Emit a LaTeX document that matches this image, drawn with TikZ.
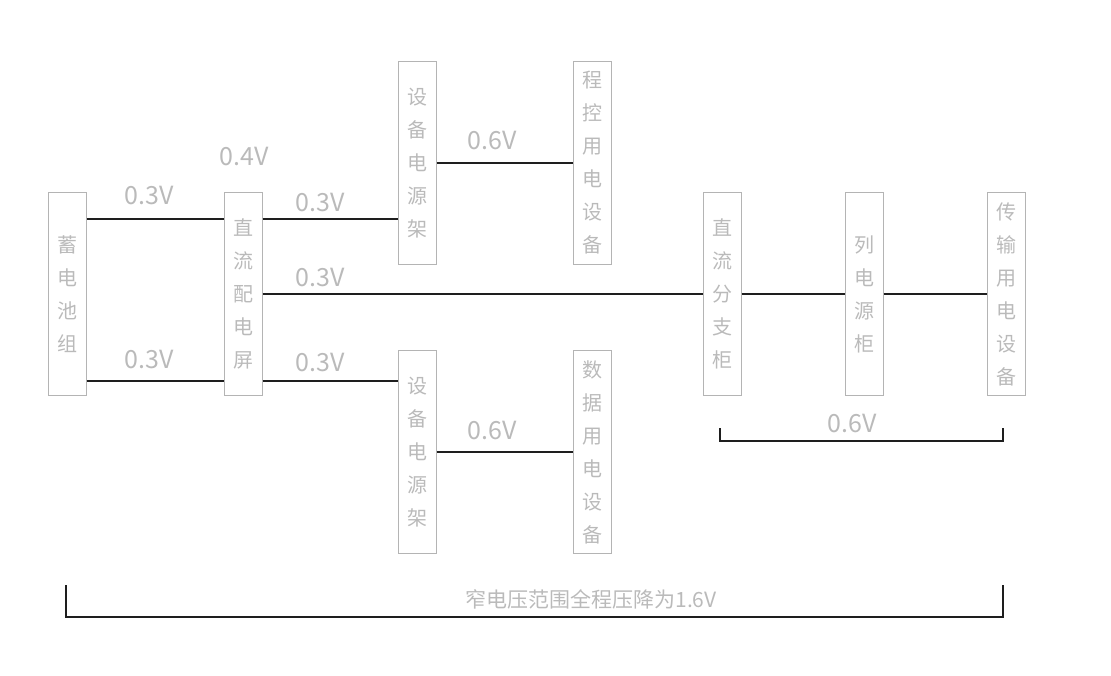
\documentclass[tikz,border=0pt]{standalone}
\usepackage{fontspec}
\newfontfamily\cjk{Noto Sans CJK SC}
\usetikzlibrary{positioning}
\definecolor{cadgray}{HTML}{B4B4B4}
\definecolor{cadtext}{HTML}{BABABA}
\definecolor{wireblack}{HTML}{1E1E1E}

\begin{document}
\begin{tikzpicture}[x=1pt, y=-1pt,
      box/.style={draw=cadgray, line width=1pt, minimum width=38pt,
                  minimum height=203pt, inner sep=0pt, align=center,
                  text=cadtext, font=\cjk\fontsize{20}{33}\selectfont},
      volt/.style={text=cadtext, inner sep=0pt,
                   font=\cjk\fontsize{25}{30}\selectfont},
      note/.style={text=cadtext, inner sep=0pt,
                   font=\cjk\fontsize{21}{25}\selectfont},
      wire/.style={draw=wireblack, line width=1.6pt}
    ]
    \useasboundingbox (0,0) rectangle (1111,676);
    % boxes
    \node[box] (bat) at (67,294) {蓄\\电\\池\\组};
    \node[box, right=137pt of bat] (dcs) {直\\流\\配\\电\\屏};
    \node[box] (rack1) at (417,163) {设\\备\\电\\源\\架};
    \node[box, right=136pt of rack1] (pbx) {程\\控\\用\\电\\设\\备};
    \node[box] (rack2) at (417,452) {设\\备\\电\\源\\架};
    \node[box, right=136pt of rack2] (data) {数\\据\\用\\电\\设\\备};
    \node[box] (brk) at (722,294) {直\\流\\分\\支\\柜};
    \node[box, right=103pt of brk] (col) {列\\电\\源\\柜};
    \node[box, right=103pt of col] (trans) {传\\输\\用\\电\\设\\备};
    % wires
    \draw[wire] ([yshift=75pt]bat.east) -- ([yshift=75pt]dcs.west);
    \draw[wire] ([yshift=-87pt]bat.east) -- ([yshift=-87pt]dcs.west);
    \draw[wire] ([yshift=75pt]dcs.east) -- ([yshift=75pt]dcs.east -| rack1.west);
    \draw[wire] (dcs.east) -- (brk.west);
    \draw[wire] ([yshift=-87pt]dcs.east) -- ([yshift=-87pt]dcs.east -| rack2.west);
    \draw[wire] (rack1.east) -- (pbx.west);
    \draw[wire] (rack2.east) -- (data.west);
    \draw[wire] (brk.east) -- (col.west);
    \draw[wire] (col.east) -- (trans.west);
    % voltage drops
    \node[volt] (v04) at (244,157) {0.4V};
    \node[volt] (v03a) at (149,196) {0.3V};
    \node[volt] (v03b) at (149,359) {0.3V};
    \node[volt] (v03c) at (320,203) {0.3V};
    \node[volt] (v03d) at (320,278) {0.3V};
    \node[volt] (v03e) at (320,362) {0.3V};
    \node[volt] (v06a) at (492,141) {0.6V};
    \node[volt] (v06b) at (492,430) {0.6V};
    \node[volt] (v06c) at (852,423) {0.6V};
    % brackets
    \coordinate (sbl) at (720,428);
    \coordinate (sbr) at (1003,428);
    \draw[wire] (sbl) -- ++(0,13) -| (sbr);
    \coordinate (bbl) at (66,585);
    \coordinate (bbr) at (1003,585);
    \draw[wire] (bbl) -- ++(0,32) -| (bbr);
    \node[note] (total) at (591,599) {窄电压范围全程压降为1.6V};
  \end{tikzpicture}
\end{document}
